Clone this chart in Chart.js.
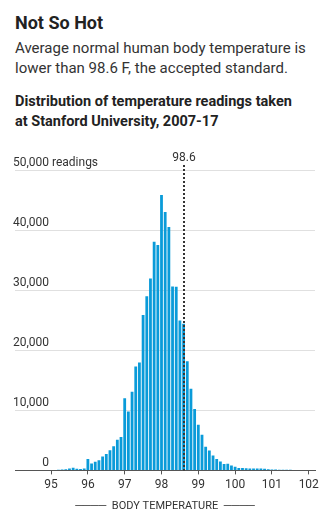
<!DOCTYPE html>
<html lang="en">
<head>
  <meta charset="UTF-8" />
  <title>Not So Hot</title>
  <script src="https://cdn.jsdelivr.net/npm/chart.js"></script>
  <style>
    body { margin: 0; background: #fff; color: #333; font-family: Roboto, sans-serif; width: 329px; }
    .head { padding: 0 8px 0 15px; }
    h1 { margin: 12px 0 0; font-size: 18px; line-height: 22px; font-weight: 700; color: #222; }
    .dek { margin: 4px 0 0; font-size: 15px; line-height: 20px; color: #333; }
    h2 { margin: 14px 0 0; width: 288px; font-size: 14.5px; line-height: 20px; font-weight: 700; color: #222; }
    .chart-box { position: relative; width: 329px; height: 386px; }
  </style>
</head>
<body>
  <div class="head">
    <h1>Not So Hot</h1>
    <p class="dek">Average normal human body temperature is lower than 98.6 F, the accepted standard.</p>
    <h2>Distribution of temperature readings taken at Stanford University, 2007-17</h2>
  </div>
  <div class="chart-box"><canvas id="tempChart"></canvas></div>
  <script>
    // body temperature bins (F) and number of readings
    const temps = [
      95.0, 95.1, 95.2, 95.3, 95.4, 95.5, 95.6, 95.7, 95.8, 95.9,
      96.0, 96.1, 96.2, 96.3, 96.4, 96.5, 96.6, 96.7, 96.8, 96.9,
      97.0, 97.1, 97.2, 97.3, 97.4, 97.5, 97.6, 97.7, 97.8, 97.9,
      98.0, 98.1, 98.2, 98.3, 98.4, 98.5, 98.6, 98.7, 98.8, 98.9,
      99.0, 99.1, 99.2, 99.3, 99.4, 99.5, 99.6, 99.7, 99.8, 99.9,
      100.0, 100.1, 100.2, 100.3, 100.4, 100.5, 100.6, 100.7, 100.8, 100.9,
      101.0, 101.1, 101.2, 101.3, 101.4, 101.5, 101.6, 101.7, 101.8, 101.9,
      102.0
    ];
    const readings = [
      60, 80, 100, 150, 200, 300, 450, 280, 250, 300,
      1900, 1150, 1450, 1700, 2300, 2750, 3350, 4000, 5100, 5550,
      12000, 9800, 13100, 17300, 17950, 25850, 29000, 31950, 38050, 37500,
      45850, 43000, 40500, 30600, 30550, 24950, 24400, 18150, 13600, 10200,
      7600, 5950, 3950, 3300, 2500, 1900, 1500, 1050, 1100, 830,
      600, 420, 400, 350, 300, 300, 300, 300, 280, 180,
      150, 130, 120, 110, 100, 90, 80, 70, 60, 60,
      50
    ];
    const xTicks = [95, 96, 97, 98, 99, 100, 101, 102];
    const yTicks = [0, 10000, 20000, 30000, 40000, 50000];
    const standardTemp = 98.6;

    const axisFont = "'Liberation Sans Narrow', Roboto, sans-serif";
    const textColor = '#333';

    // y labels sit above the gridlines, plus the dotted 98.6 marker
    const overlay = {
      id: 'overlay',
      afterDatasetsDraw(chart) {
        const { ctx, chartArea, scales: { x, y } } = chart;
        ctx.save();
        ctx.font = '12px ' + axisFont;
        ctx.fillStyle = textColor;
        ctx.textBaseline = 'alphabetic';
        const labelRight = chartArea.left + 34;
        y.ticks.forEach(t => {
          const py = y.getPixelForValue(t.value) - 4.5;
          ctx.textAlign = 'right';
          ctx.fillText(t.value.toLocaleString('en-US'), labelRight, py);
          if (t.value === y.max) {
            ctx.textAlign = 'left';
            ctx.fillText(' readings', labelRight, py);
          }
        });

        const px = Math.round(x.getPixelForValue(standardTemp));
        ctx.strokeStyle = '#333';
        ctx.lineWidth = 2;
        ctx.setLineDash([2, 2]);
        ctx.beginPath();
        ctx.moveTo(px, chartArea.top - 5);
        ctx.lineTo(px, chartArea.bottom);
        ctx.stroke();
        ctx.textAlign = 'center';
        ctx.fillText(String(standardTemp), px, chartArea.top - 9.5);
        ctx.restore();
      }
    };

    new Chart(document.getElementById('tempChart').getContext('2d'), {
      type: 'bar',
      data: {
        datasets: [{
          data: temps.map((t, i) => ({ x: t, y: readings[i] })),
          backgroundColor: '#0a9bd9',
          borderWidth: 0,
          barPercentage: 0.76,
          categoryPercentage: 1
        }]
      },
      options: {
        responsive: true,
        maintainAspectRatio: false,
        animation: false,
        layout: { padding: { left: 15, right: 14, top: 38, bottom: 0 } },
        plugins: { legend: { display: false }, tooltip: { enabled: false } },
        scales: {
          x: {
            type: 'linear',
            min: 94.02,
            max: 102.17,
            offset: false,
            afterBuildTicks: s => { s.ticks = xTicks.map(v => ({ value: v })); },
            ticks: { color: textColor, font: { family: axisFont, size: 12 }, padding: 3, maxRotation: 0, autoSkip: false },
            grid: { offset: false, drawOnChartArea: false, drawTicks: true, tickLength: 4, color: '#555' },
            border: { color: '#555' },
            title: {
              display: true,
              text: '\u2500\u2500\u2500\u2500  BODY TEMPERATURE  \u2500\u2500\u2500\u2500',
              color: textColor,
              font: { family: axisFont, size: 11 },
              padding: { top: 5, bottom: 5 }
            }
          },
          y: {
            min: 0,
            max: 50000,
            afterBuildTicks: s => { s.ticks = yTicks.map(v => ({ value: v })); },
            ticks: { display: false },
            grid: { color: '#e0e0e0', drawTicks: false },
            border: { display: false }
          }
        }
      },
      plugins: [overlay]
    });
  </script>
</body>
</html>
